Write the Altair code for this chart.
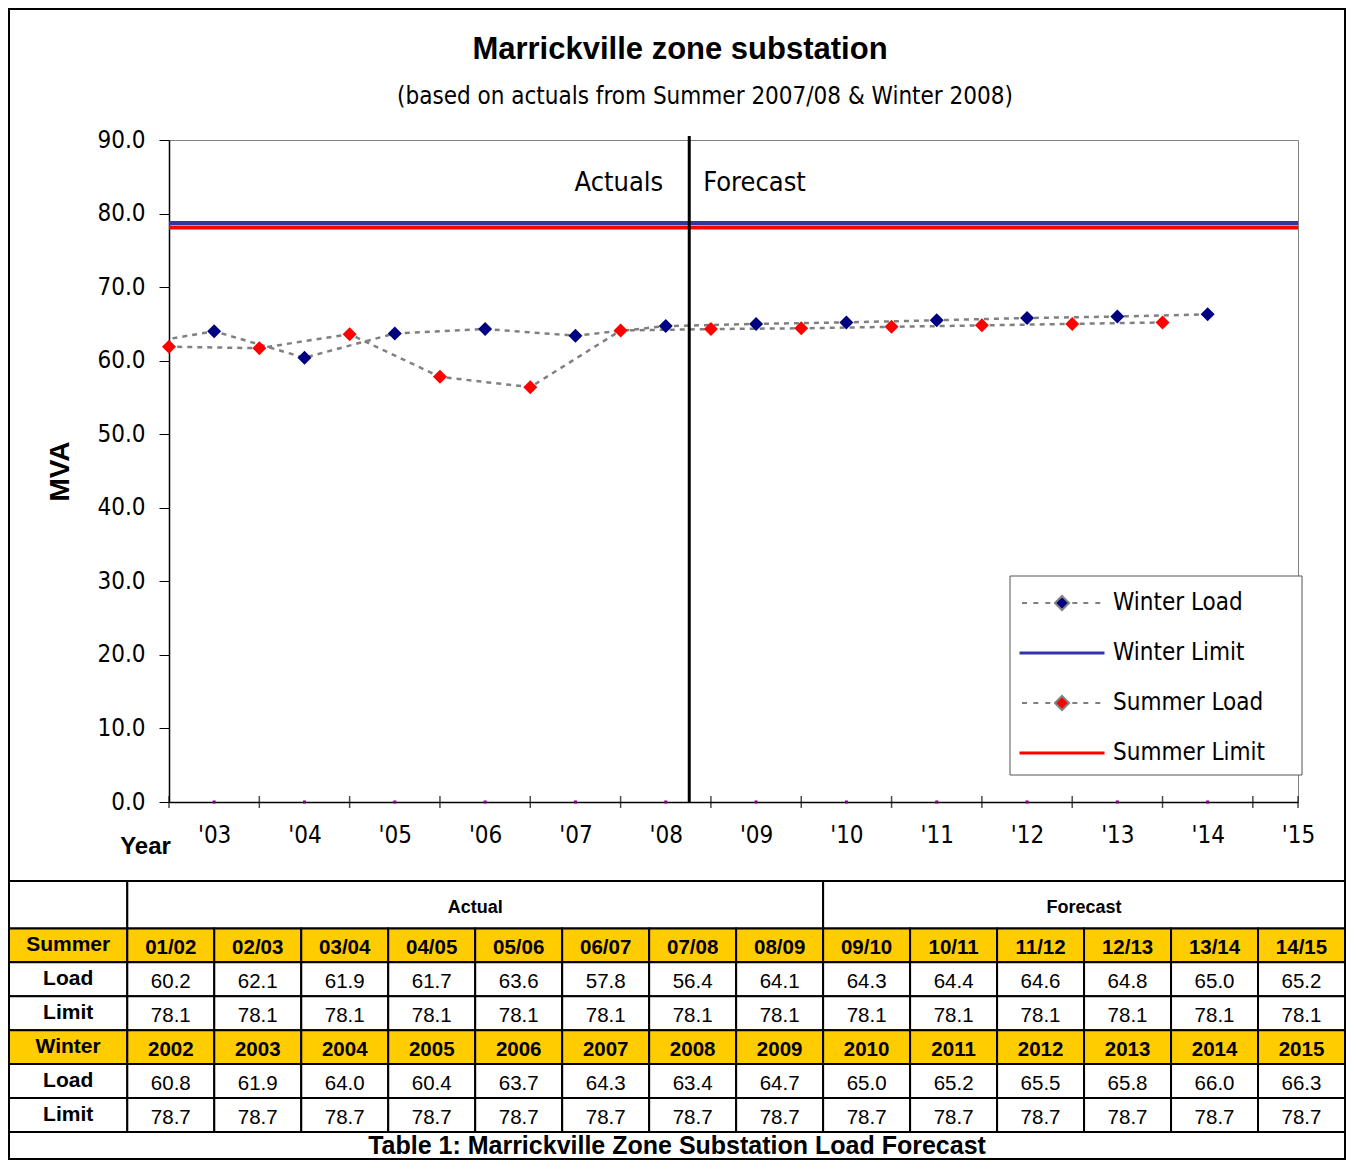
import altair as alt
import pandas as pd

# ---------------- data ----------------
summer_labels = ["01/02", "02/03", "03/04", "04/05", "05/06", "06/07", "07/08",
                 "08/09", "09/10", "10/11", "11/12", "12/13", "13/14", "14/15"]
summer_load = [60.2, 62.1, 61.9, 61.7, 63.6, 57.8, 56.4, 64.1, 64.3, 64.4, 64.6, 64.8, 65.0, 65.2]
summer_limit = [78.1] * 14

winter_years = [2002, 2003, 2004, 2005, 2006, 2007, 2008,
                2009, 2010, 2011, 2012, 2013, 2014, 2015]
winter_load = [60.8, 61.9, 64.0, 60.4, 63.7, 64.3, 63.4, 64.7, 65.0, 65.2, 65.5, 65.8, 66.0, 66.3]
winter_limit = [78.7] * 14

x_labels = [3, 4, 5, 6, 7, 8, 9, 10, 11, 12, 13, 14, 15]
divider_x = 8.26
n_actual = 8  # columns under "Actual"

# ---------------- fonts / colours ----------------
NARROW = "Liberation Sans Narrow, Arial Narrow, DejaVu Sans Condensed, sans-serif"
ARIAL = "Liberation Sans, Arial, sans-serif"
GOLD = "#FFCC00"
series_domain = ["Winter Load", "Winter Limit", "Summer Load", "Summer Limit"]
fill_colors = ["#000080", "#3333AA", "#FF0000", "#FF0000"]
stroke_colors = ["#808080", "#3333AA", "#808080", "#FF0000"]
# legend / marker glyphs (unit = half symbol box)
LOAD_GLYPH = ("M-4.0,0H-3.5M-2.87,0H-2.37M-1.67,0H-1.17"
              "M1.03,0H1.53M2.13,0H2.63M3.33,0H3.83"
              "M0,-0.7L0.7,0L0,0.7L-0.7,0Z")
LIMIT_GLYPH = "M-4.15,-0.06H4.15V0.06H-4.15Z"
series_shapes = [LOAD_GLYPH, LIMIT_GLYPH, LOAD_GLYPH, LIMIT_GLYPH]
SYM = 400

# ---------------- main chart data ----------------
summer_x = [int(s[:2]) - 0.5 for s in summer_labels]
winter_x = [y - 2001 for y in winter_years]

loads = pd.DataFrame({
    "series": ["Winter Load"] * len(winter_load) + ["Summer Load"] * len(summer_load),
    "x": winter_x + summer_x,
    "mva": winter_load + summer_load,
})
limits = pd.DataFrame({
    "series": ["Winter Limit", "Summer Limit"],
    "mva": [winter_limit[0], summer_limit[0]],
})

xscale = alt.Scale(domain=[2.5, 15], nice=False, zero=False)
yscale = alt.Scale(domain=[0, 90], nice=False, zero=True)

xaxis = alt.Axis(values=x_labels, labelExpr="\"'\" + (datum.value < 10 ? '0' : '') + datum.value",
                 tickSize=0, labelFont=NARROW, labelFontSize=24, labelColor="black",
                 labelPadding=21, labelFlush=False, labelOverlap=False, grid=False,
                 domainColor="black", domainWidth=1.5,
                 title="Year", titleFont=ARIAL, titleFontSize=24, titleFontWeight="bold",
                 titleColor="black", titleX=-24, titleY=44, titleAlign="center",
                 titleBaseline="middle")
yaxis = alt.Axis(values=list(range(0, 91, 10)), format=".1f", labelFont=NARROW,
                 labelFontSize=24, labelColor="black", tickSize=10, tickColor="black",
                 domainColor="black", domainWidth=1.5, labelPadding=14, grid=False,
                 title="MVA", titleFont=ARIAL, titleFontSize=28, titleFontWeight="bold",
                 titleColor="black", titlePadding=22)

legend = alt.Legend(title=None, orient="none", legendX=881, legendY=451,
                    symbolSize=SYM, symbolStrokeWidth=2, labelFont=NARROW,
                    labelFontSize=24, labelColor="black", labelLimit=300, labelOffset=39,
                    padding=0, rowPadding=26)

fill_scale = alt.Scale(domain=series_domain, range=fill_colors)
stroke_scale = alt.Scale(domain=series_domain, range=stroke_colors)
shape_scale = alt.Scale(domain=series_domain, range=series_shapes)

legend_box = alt.Chart(pd.DataFrame({"k": [0]})).mark_rect(
    fill="white", stroke="#555555", strokeWidth=1).encode(
    x=alt.value(841), x2=alt.value(1133), y=alt.value(436), y2=alt.value(635))

limit_rules = alt.Chart(limits).mark_rule(strokeWidth=4).encode(
    y=alt.Y("mva:Q", scale=yscale, axis=yaxis),
    stroke=alt.Stroke("series:N", scale=stroke_scale, legend=legend),
)

load_lines = alt.Chart(loads).mark_line(clip=True, stroke="#808080", strokeWidth=2.5,
                                        strokeDash=[5, 5]).encode(
    x=alt.X("x:Q", scale=xscale, axis=xaxis),
    y=alt.Y("mva:Q", scale=yscale, axis=yaxis),
    detail="series:N",
    order="x:Q",
)

load_points = alt.Chart(loads).transform_filter("datum.x >= 2.5").mark_point(
    filled=True, opacity=1, size=SYM).encode(
    x=alt.X("x:Q", scale=xscale, axis=xaxis),
    y=alt.Y("mva:Q", scale=yscale, axis=yaxis),
    fill=alt.Fill("series:N", scale=fill_scale, legend=legend),
    shape=alt.Shape("series:N", scale=shape_scale, legend=legend),
)

tick_positions = [s for s in summer_x if s >= 2.5] + [14.5, 15]
x_ticks = alt.Chart(pd.DataFrame({"x": tick_positions})).mark_tick(
    orient="vertical", size=12, thickness=1.5, color="black").encode(
    x=alt.X("x:Q", scale=xscale, axis=xaxis), y=alt.datum(0))

dots = alt.Chart(pd.DataFrame({"x": [w for w in winter_x if 2.5 <= w <= 15]})).mark_square(
    size=9, color="#800080", opacity=1).encode(
    x=alt.X("x:Q", scale=xscale, axis=xaxis), y=alt.datum(0))

divider = alt.Chart(pd.DataFrame({"x": [divider_x]})).mark_rule(
    color="black", strokeWidth=3).encode(
    x=alt.X("x:Q", scale=xscale, axis=xaxis), y=alt.value(-4), y2=alt.value(662))

ann = pd.DataFrame({"x": [divider_x], "mva": [84.2]})
ann_actual = alt.Chart(ann).mark_text(text="Actuals", align="right", baseline="middle",
                                      dx=-26, font=NARROW, fontSize=27, color="black").encode(
    x=alt.X("x:Q", scale=xscale, axis=xaxis), y=alt.Y("mva:Q", scale=yscale, axis=yaxis))
ann_fc = alt.Chart(ann).mark_text(text="Forecast", align="left", baseline="middle",
                                  dx=14, font=NARROW, fontSize=27, color="black").encode(
    x=alt.X("x:Q", scale=xscale, axis=xaxis), y=alt.Y("mva:Q", scale=yscale, axis=yaxis))

main = alt.layer(limit_rules, load_lines, legend_box, load_points, x_ticks, dots, divider,
                 ann_actual, ann_fc)

# ---------------- table ----------------
ncol = len(summer_labels)
row_edges = [0, 1.4, 2.4, 3.4, 4.4, 5.4, 6.4, 7.4, 8.2]
LABEL_X0 = -1.36
cells = []
texts = []

def add_cell(x0, x1, r, text, kind, gold):
    y0, y1 = row_edges[r], row_edges[r + 1]
    cells.append({"x0": x0, "x1": x1, "y0": y0, "y1": y1, "gold": 1 if gold else 0})
    if text != "":
        texts.append({"xc": (x0 + x1) / 2, "yc": (y0 + y1) / 2, "text": text, "kind": kind})

# header row
add_cell(LABEL_X0, 0, 0, "", "grp", False)
add_cell(0, n_actual, 0, "Actual", "grp", False)
add_cell(n_actual, ncol, 0, "Forecast", "grp", False)

rows = [
    ("Summer", summer_labels, True),
    ("Load", [f"{v:.1f}" for v in summer_load], False),
    ("Limit", [f"{v:.1f}" for v in summer_limit], False),
    ("Winter", [str(y) for y in winter_years], True),
    ("Load", [f"{v:.1f}" for v in winter_load], False),
    ("Limit", [f"{v:.1f}" for v in winter_limit], False),
]
for i, (lab, vals, gold) in enumerate(rows):
    r = i + 1
    add_cell(LABEL_X0, 0, r, lab, "lab", gold)
    for c, v in enumerate(vals):
        add_cell(c, c + 1, r, v, "hdr" if gold else "num", gold)

texts.append({"xc": (LABEL_X0 + ncol) / 2, "yc": (row_edges[7] + row_edges[8]) / 2,
              "text": "Table 1: Marrickville Zone Substation Load Forecast", "kind": "cap"})

cells_df = pd.DataFrame(cells)
texts_df = pd.DataFrame(texts)

tx = alt.Scale(domain=[LABEL_X0, ncol], range=[-160, 1176], nice=False, zero=False)
ty = alt.Scale(domain=[0, row_edges[-1]], range=[741, 1019], nice=False, zero=False)

rects = alt.Chart(cells_df).mark_rect(stroke="black", strokeWidth=2).encode(
    x=alt.X("x0:Q", scale=tx, axis=None), x2="x1:Q",
    y=alt.Y("y0:Q", scale=ty, axis=None), y2="y1:Q",
    fill=alt.condition(alt.datum.gold == 1, alt.value(GOLD), alt.value("white")),
)

def text_layer(kind, size, weight, dy=2):
    return alt.Chart(texts_df).transform_filter(alt.datum.kind == kind).mark_text(
        font=ARIAL, fontSize=size, fontWeight=weight, color="black",
        baseline="middle", align="center", dy=dy).encode(
        x=alt.X("xc:Q", scale=tx, axis=None),
        y=alt.Y("yc:Q", scale=ty, axis=None),
        text="text:N")

t_num = text_layer("num", 20.5, "normal", 3)
t_hdr = text_layer("hdr", 20.5, "bold", 3)
t_lab = text_layer("lab", 21, "bold", 0)
t_grp = text_layer("grp", 18, "bold", 3)
t_cap = text_layer("cap", 25, "bold", 1)

one = pd.DataFrame({"k": [0]})
border = alt.Chart(one).mark_rect(fillOpacity=0, stroke="black", strokeWidth=2).encode(
    x=alt.value(-160), x2=alt.value(1176), y=alt.value(-131), y2=alt.value(1019))
title = alt.Chart(one).mark_text(text="Marrickville zone substation", font=ARIAL,
                                 fontSize=31, fontWeight="bold", color="black",
                                 align="center", baseline="middle").encode(
    x=alt.value(511), y=alt.value(-90))
subtitle = alt.Chart(one).mark_text(text="(based on actuals from Summer 2007/08 & Winter 2008)",
                                    font=NARROW, fontSize=24, color="black",
                                    align="center", baseline="middle").encode(
    x=alt.value(536), y=alt.value(-43))

table = alt.layer(rects, t_num, t_hdr, t_lab, t_grp, t_cap, border, title, subtitle)

chart = alt.layer(main, table).resolve_scale(
    x="independent", y="independent"
).properties(width=1129, height=662, padding=0, background="white").configure_view(
    stroke="#808080", strokeWidth=1)

chart.save("out.html", embed_options={"renderer": "svg", "actions": False})
